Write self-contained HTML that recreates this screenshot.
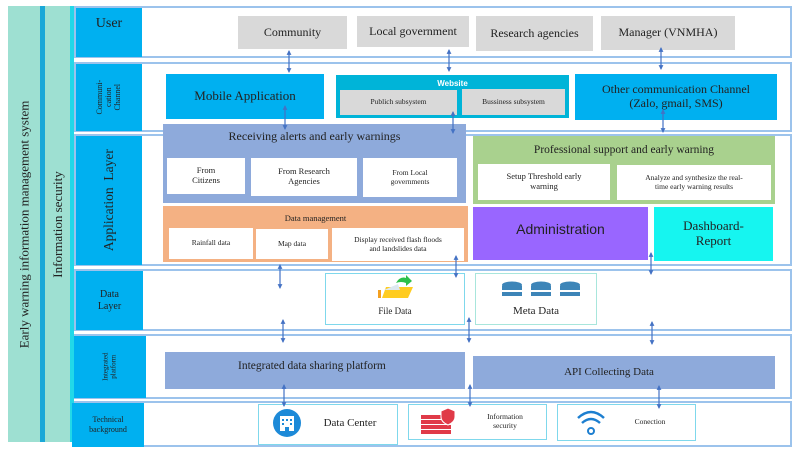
<!DOCTYPE html>
<html><head><meta charset="utf-8"><style>
*{box-sizing:border-box;margin:0;padding:0}
body{width:800px;height:449px;background:#fff;position:relative;overflow:hidden;font-family:"Liberation Serif",serif;color:#222}
.a{position:absolute}
.c{display:flex;align-items:center;justify-content:center;text-align:center;line-height:1.15}
.row{position:absolute;border:2px solid #9cc3ec;background:#fff}
.lab{position:absolute;background:#00b0f0;display:flex;align-items:center;justify-content:center;text-align:center;line-height:1.2}
.gray{background:#d9d9d9}
.w{background:#fff}
.rot{transform:rotate(-90deg);white-space:nowrap}
svg{position:absolute;left:0;top:0}
</style></head><body>
<div class="a" style="left:8px;top:6px;width:34px;height:436px;background:#9ee0d2;border-right:1px solid #59b"></div>
<div class="a" style="left:40px;top:6px;width:6px;height:436px;background:#1aa8d8"></div>
<div class="a" style="left:45px;top:6px;width:25px;height:436px;background:#9ee0d2"></div>
<div class="a" style="left:70px;top:6px;width:4px;height:436px;background:#22d8e8"></div>
<div class="a c" style="left:25px;top:224px;width:0;height:0"><div class="rot" style="font-size:13px">Early warning information management system</div></div>
<div class="a c" style="left:58px;top:224px;width:0;height:0"><div class="rot" style="font-size:13px">Information security</div></div>

<div class="row" style="left:74px;top:6px;width:718px;height:52px"></div>
<div class="row" style="left:74px;top:62px;width:718px;height:70px"></div>
<div class="row" style="left:74px;top:134px;width:718px;height:132px"></div>
<div class="row" style="left:74px;top:269px;width:718px;height:62px"></div>
<div class="row" style="left:74px;top:334px;width:718px;height:65px"></div>
<div class="row" style="left:74px;top:401px;width:718px;height:46px"></div>

<div class="lab" style="left:76px;top:8px;width:66px;height:49px;font-size:14px;align-items:flex-start;padding-top:8px">User</div>
<div class="lab" style="left:76px;top:64px;width:66px;height:67px"><div class="rot" style="font-size:8px;line-height:1.1">Communi-<br>cation<br>Channel</div></div>
<div class="lab" style="left:76px;top:136px;width:66px;height:129px"><div class="rot" style="font-size:13.5px">Application&nbsp; Layer</div></div>
<div class="lab" style="left:76px;top:271px;width:67px;height:59px;font-size:10px">Data<br>Layer</div>
<div class="lab" style="left:74px;top:336px;width:72px;height:62px"><div class="rot" style="font-size:7px;line-height:1.1">Integrated<br>platform</div></div>
<div class="lab" style="left:72px;top:403px;width:72px;height:44px;font-size:8px">Technical<br>background</div>

<div class="a c gray" style="left:238px;top:16px;width:109px;height:33px;font-size:12px">Community</div>
<div class="a c gray" style="left:357px;top:16px;width:112px;height:31px;font-size:12px">Local government</div>
<div class="a c gray" style="left:476px;top:16px;width:117px;height:35px;font-size:12px">Research agencies</div>
<div class="a c gray" style="left:601px;top:16px;width:134px;height:34px;font-size:12px">Manager (VNMHA)</div>

<div class="a c" style="left:166px;top:74px;width:158px;height:45px;background:#00b0f0;font-size:13px">Mobile Application</div>
<div class="a" style="left:336px;top:75px;width:233px;height:43px;background:#00b4d8"></div>
<div class="a c" style="left:336px;top:78px;width:233px;height:12px;color:#fff;font-weight:bold;font-family:'Liberation Sans',sans-serif;font-size:8px">Website</div>
<div class="a c gray" style="left:340px;top:90px;width:117px;height:25px;font-size:7.5px">Publich subsystem</div>
<div class="a c gray" style="left:462px;top:89px;width:103px;height:26px;font-size:7.5px">Bussiness subsystem</div>
<div class="a c" style="left:575px;top:74px;width:202px;height:46px;background:#00b0f0;font-size:12px">Other communication Channel<br>(Zalo, gmail, SMS)</div>

<div class="a" style="left:163px;top:124px;width:303px;height:79px;background:#8eaadb"></div>
<div class="a c" style="left:163px;top:129px;width:303px;height:16px;font-size:12px">Receiving alerts and early warnings</div>
<div class="a c w" style="left:167px;top:158px;width:78px;height:36px;font-size:8.5px">From<br>Citizens</div>
<div class="a c w" style="left:251px;top:158px;width:106px;height:38px;font-size:8.5px">From Research<br>Agencies</div>
<div class="a c w" style="left:363px;top:158px;width:94px;height:39px;font-size:7.5px">From Local<br>governments</div>

<div class="a" style="left:473px;top:136px;width:302px;height:68px;background:#a9d18e"></div>
<div class="a c" style="left:473px;top:143px;width:302px;height:16px;font-size:11.5px">Professional support and early warning</div>
<div class="a c w" style="left:478px;top:164px;width:132px;height:36px;font-size:8.5px">Setup Threshold early<br>warning</div>
<div class="a c w" style="left:617px;top:165px;width:154px;height:35px;font-size:7.5px">Analyze and synthesize the real-<br>time early warning results</div>

<div class="a" style="left:163px;top:206px;width:305px;height:56px;background:#f4b183"></div>
<div class="a c" style="left:163px;top:212px;width:305px;height:14px;font-size:8.5px">Data management</div>
<div class="a c w" style="left:169px;top:228px;width:84px;height:31px;font-size:7.5px">Rainfall data</div>
<div class="a c w" style="left:256px;top:229px;width:72px;height:30px;font-size:7.5px">Map data</div>
<div class="a c w" style="left:332px;top:228px;width:132px;height:33px;font-size:7.5px">Display received flash floods<br>and landslides data</div>

<div class="a c" style="left:473px;top:207px;width:175px;height:53px;background:#9966ff;font-family:'Liberation Sans',sans-serif;font-size:14px;padding-bottom:8px">Administration</div>
<div class="a c" style="left:654px;top:207px;width:119px;height:54px;background:#16f5f0;font-size:13px">Dashboard-<br>Report</div>

<div class="a w" style="left:325px;top:273px;width:140px;height:52px;border:1.5px solid #7fd8ec"></div>
<div class="a c" style="left:325px;top:304px;width:140px;height:14px;font-size:9px">File Data</div>
<div class="a w" style="left:475px;top:273px;width:122px;height:52px;border:1.5px solid #a8e6dc"></div>
<div class="a c" style="left:475px;top:303px;width:122px;height:16px;font-size:11px">Meta Data</div>

<div class="a c" style="left:165px;top:352px;width:300px;height:37px;background:#8eaadb;font-size:11.5px;justify-content:flex-start;padding-left:73px;padding-bottom:8px">Integrated data sharing platform</div>
<div class="a c" style="left:473px;top:356px;width:302px;height:33px;background:#8eaadb;font-size:11px;padding-right:30px">API Collecting Data</div>

<div class="a w" style="left:258px;top:404px;width:140px;height:41px;border:1.5px solid #7fd8ec"></div>
<div class="a c" style="left:310px;top:415px;width:80px;height:16px;font-size:11px">Data Center</div>
<div class="a w" style="left:408px;top:404px;width:139px;height:36px;border:1.5px solid #7fd8ec"></div>
<div class="a c" style="left:470px;top:410px;width:70px;height:24px;font-size:7.5px">Information<br>security</div>
<div class="a w" style="left:557px;top:404px;width:139px;height:37px;border:1.5px solid #7fd8ec"></div>
<div class="a c" style="left:620px;top:414px;width:60px;height:16px;font-size:7.5px">Conection</div>

<svg width="800" height="449" viewBox="0 0 800 449">
<defs>
<marker id="h" viewBox="0 0 10 10" refX="8" refY="5" markerWidth="4" markerHeight="4" orient="auto-start-reverse"><path d="M0,0L10,5L0,10z" fill="#4472c4"/></marker>
</defs>
<g stroke="#4472c4" stroke-width="1.2" marker-start="url(#h)" marker-end="url(#h)">
<line x1="289" y1="51" x2="289" y2="72"/>
<line x1="449" y1="50" x2="449" y2="71"/>
<line x1="661" y1="48" x2="661" y2="69"/>
<line x1="285" y1="106" x2="285" y2="129"/>
<line x1="453" y1="112" x2="453" y2="133"/>
<line x1="663" y1="110" x2="663" y2="132"/>
<line x1="280" y1="265" x2="280" y2="288"/>
<line x1="283" y1="320" x2="283" y2="342"/>
<line x1="456" y1="256" x2="456" y2="277"/>
<line x1="469" y1="318" x2="469" y2="342"/>
<line x1="651" y1="253" x2="651" y2="274"/>
<line x1="652" y1="322" x2="652" y2="344"/>
<line x1="284" y1="385" x2="284" y2="406"/>
<line x1="470" y1="385" x2="470" y2="406"/>
<line x1="659" y1="386" x2="659" y2="408"/>
</g>
<rect x="378" y="290" width="3" height="8" fill="#f4a020"/>
<path d="M382 298 L386 287 L413 287 L408 298 Z" fill="#ffcc20"/>
<path d="M384 290 L398 284 L400 290 Z" fill="#dde8f0"/>
<path d="M396 283 Q400 276 406 278 L406 275 L412 281 L406 286 L406 283 Q401 281 396 283Z" fill="#2ec04a"/>
<g fill="#3d85b8">
<ellipse cx="512" cy="285" rx="10" ry="3.5"/><rect x="502" y="286" width="20" height="4"/><rect x="502" y="292" width="20" height="4"/>
<ellipse cx="541" cy="285" rx="10" ry="3.5"/><rect x="531" y="286" width="20" height="4"/><rect x="531" y="292" width="20" height="4"/>
<ellipse cx="570" cy="285" rx="10" ry="3.5"/><rect x="560" y="286" width="20" height="4"/><rect x="560" y="292" width="20" height="4"/>
</g>
<circle cx="287" cy="423" r="14" fill="#1d8ad8"/>
<rect x="280" y="416" width="14" height="15" fill="#fff"/>
<g fill="#1d8ad8"><rect x="282" y="419" width="2" height="2"/><rect x="286" y="419" width="2" height="2"/><rect x="290" y="419" width="2" height="2"/><rect x="282" y="423" width="2" height="2"/><rect x="290" y="423" width="2" height="2"/><rect x="285" y="427" width="4" height="4"/></g>
<g fill="#e03a48"><rect x="421" y="415" width="30" height="4"/><rect x="421" y="420" width="30" height="4"/><rect x="421" y="425" width="30" height="4"/><rect x="421" y="430" width="30" height="4"/></g>
<path d="M448 408 L455 411 L455 417 Q455 422 448 425 Q441 422 441 417 L441 411Z" fill="#e03a48" stroke="#fff"/>
<g fill="none" stroke="#1d7fd0" stroke-width="2.5">
<path d="M578 418 Q591 406 604 418"/><path d="M582 423 Q591 415 600 423"/></g>
<circle cx="591" cy="431" r="3" fill="none" stroke="#1d7fd0" stroke-width="2"/>
</svg>
</body></html>
